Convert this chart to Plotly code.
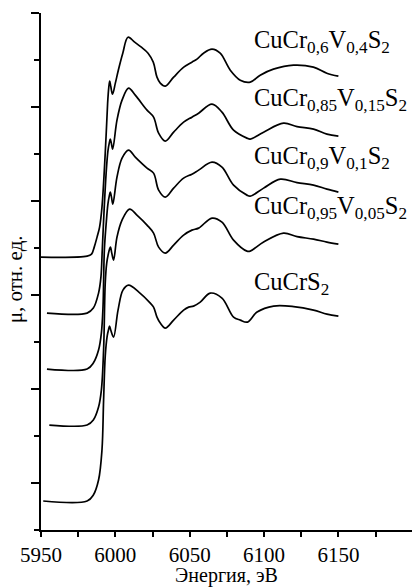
import plotly.graph_objects as go

# ---- data (energy in eV, mu in arbitrary units, curves shifted by offsets) ----
labels = [
    "CuCr<sub>0,6</sub>V<sub>0,4</sub>S<sub>2</sub>",
    "CuCr<sub>0,85</sub>V<sub>0,15</sub>S<sub>2</sub>",
    "CuCr<sub>0,9</sub>V<sub>0,1</sub>S<sub>2</sub>",
    "CuCr<sub>0,95</sub>V<sub>0,05</sub>S<sub>2</sub>",
    "CuCrS<sub>2</sub>",
]
offsets = [2.73, 2.17, 1.61, 1.05, 0.29]

e_v04 = [5950, 5981, 5984, 5985.8, 5987.7, 5989.4, 5991.0, 5993.2, 5994.8, 5995.6, 5996.2, 5996.9, 5998.1,
         6000, 6002, 6005, 6008.5, 6013, 6017.5, 6022, 6025.5, 6028, 6030.2, 6033.6, 6039.2, 6046,
         6051.5, 6054.9, 6059.3, 6065, 6070.5, 6077.3, 6084, 6090.7, 6097.4, 6106.3, 6119.8, 6133.2,
         6142.2, 6150]
mu_v04 = [0, 0.01, 0.03, 0.10, 0.20, 0.30, 0.50, 1.04, 1.54, 1.70, 1.76, 1.71, 1.63,
          1.74, 1.87, 2.04, 2.20, 2.15, 2.10, 2.04, 1.95, 1.80, 1.74, 1.71, 1.80, 1.90,
          1.95, 1.98, 2.04, 2.08, 2.04, 1.87, 1.77, 1.75, 1.82, 1.88, 1.92, 1.90,
          1.84, 1.81]

e_v015 = [5954, 5981, 5985.2, 5988.7, 5990.3, 5991.2, 5992.5, 5993.8, 5995, 5995.9, 5996.6, 5997.3, 5998.2,
          6001.1, 6004.5, 6008.9, 6013.4, 6021.3, 6025.7, 6029.1, 6033.6, 6039.2, 6045.9, 6051.5,
          6056, 6065, 6071.7, 6079.5, 6088.5, 6090.7, 6099.7, 6113.1, 6122.2, 6133.3, 6142.3, 6150]
mu_v015 = [0, 0, 0.05, 0.20, 0.36, 0.63, 1.05, 1.40, 1.62, 1.70, 1.74, 1.70, 1.64,
           1.93, 2.13, 2.25, 2.18, 2.03, 1.96, 1.80, 1.72, 1.81, 1.91, 1.96,
           2.00, 2.09, 2.01, 1.83, 1.75, 1.74, 1.81, 1.90, 1.865, 1.84, 1.79, 1.77]

e_v01 = [5954, 5981, 5985.2, 5988.7, 5990.6, 5991.7, 5992.6, 5993.8, 5995, 5995.9, 5996.6, 5997.4, 5998.3,
         6001.1, 6004.5, 6008.9, 6013.4, 6021.3, 6025.7, 6029.1, 6033.6, 6039.2, 6045.9, 6051.5,
         6056, 6065, 6071.7, 6079.5, 6088.5, 6090.7, 6099.7, 6111, 6122.2, 6133.3, 6142.3, 6150]
mu_v01 = [0, 0, 0.06, 0.19, 0.36, 0.62, 1.19, 1.45, 1.65, 1.73, 1.77, 1.72, 1.65,
          1.92, 2.11, 2.19, 2.12, 2.01, 1.96, 1.79, 1.72, 1.81, 1.91, 1.95,
          1.99, 2.07, 2.02, 1.84, 1.74, 1.73, 1.81, 1.90, 1.865, 1.84, 1.80, 1.77]

e_v005 = [5955.6, 5981, 5985.2, 5988.7, 5990.6, 5992.1, 5993.2, 5994.2, 5995.4, 5996.1, 5996.7, 5997.6, 5998.8,
          6001.1, 6004.5, 6009.6, 6014.5, 6021.3, 6025.7, 6029.1, 6033.6, 6039.2, 6045.9, 6051.5,
          6056, 6065, 6071.7, 6079.5, 6088.5, 6090.7, 6099.7, 6113.1, 6122.2, 6133.3, 6142.3, 6150]
mu_v005 = [0, 0, 0.05, 0.18, 0.35, 0.75, 1.42, 1.62, 1.72, 1.76, 1.78, 1.72, 1.65,
           1.88, 2.05, 2.16, 2.10, 2.00, 1.92, 1.78, 1.72, 1.80, 1.90, 1.95,
           1.97, 2.07, 2.03, 1.85, 1.74, 1.74, 1.83, 1.92, 1.885, 1.86, 1.83, 1.81]

e_v0 = [5951.5, 5981, 5985.2, 5988.7, 5991, 5992.1, 5993.2, 5994.5, 5995.5, 5996.1, 5996.9, 5998.8,
        6001.8, 6005.1, 6008.9, 6015.8, 6023.5, 6025.7, 6028, 6030.2, 6033.6, 6039.2, 6045.9,
        6049.3, 6052.6, 6057.1, 6063.8, 6071.7, 6079.5, 6084, 6088.8, 6095.3, 6106.4, 6119.9,
        6133.3, 6142.3, 6150]
mu_v0 = [0, 0, 0.06, 0.21, 0.51, 1.01, 1.45, 1.65, 1.72, 1.75, 1.71, 1.64,
         1.91, 2.11, 2.16, 2.09, 1.98, 1.94, 1.84, 1.78, 1.73, 1.81, 1.91,
         1.94, 1.95, 1.99, 2.08, 2.03, 1.84, 1.81, 1.79, 1.89, 1.95, 1.945,
         1.91, 1.87, 1.85]

energies = [e_v04, e_v015, e_v01, e_v005, e_v0]
mus = [mu_v04, mu_v015, mu_v01, mu_v005, mu_v0]

x_ticks = [5950, 6000, 6050, 6100, 6150]
label_x = 6092.0
label_y = [4.89, 4.31, 3.73, 3.23, 2.47]

FONT = "Liberation Serif"

fig = go.Figure()
for e, m, off in zip(energies, mus, offsets):
    fig.add_trace(go.Scatter(
        x=e, y=[v + off for v in m], mode="lines",
        line=dict(color="black", width=1.7, shape="spline", smoothing=1.0),
        showlegend=False, hoverinfo="skip",
    ))

for txt, ly in zip(labels, label_y):
    fig.add_annotation(x=label_x, y=ly, xref="x", yref="y", text=txt, showarrow=False,
                       xanchor="left", yanchor="middle",
                       font=dict(family=FONT, size=24.5, color="black"))

fig.add_annotation(x=-0.07, y=0.485, xref="paper", yref="paper", text="μ, отн. ед.",
                   textangle=-90, showarrow=False, xanchor="center", yanchor="middle",
                   font=dict(family=FONT, size=21, color="black"))

fig.update_layout(
    width=412, height=587,
    margin=dict(l=41, r=0, t=13, b=57, autoexpand=False),
    plot_bgcolor="white", paper_bgcolor="white",
    font=dict(family=FONT, color="black"),
)
fig.update_xaxes(
    range=[5950, 6199.5], showgrid=False, zeroline=False,
    showline=True, linecolor="black", linewidth=2, mirror=False,
    tickmode="array", tickvals=x_ticks, ticktext=[str(t) for t in x_ticks],
    ticks="outside", ticklen=5, tickwidth=1.5, tickcolor="black",
    tickfont=dict(family=FONT, size=21, color="black"), ticklabelstandoff=0,
    minor=dict(dtick=25, tick0=5950, ticks="outside", ticklen=5, tickwidth=1.5, tickcolor="black"),
    title=dict(text="Энергия, эВ", font=dict(family=FONT, size=20, color="black"), standoff=3),
)
fig.update_yaxes(
    range=[0, 5.172], showgrid=False, zeroline=False,
    showline=True, linecolor="black", linewidth=2, mirror=False,
    showticklabels=False, tick0=0.47, dtick=0.94,
    ticks="outside", ticklen=8, tickwidth=1.5, tickcolor="black",
    minor=dict(dtick=0.47, tick0=0, ticks="outside", ticklen=5, tickwidth=1.5, tickcolor="black"),
)

fig.write_html("out.html")
